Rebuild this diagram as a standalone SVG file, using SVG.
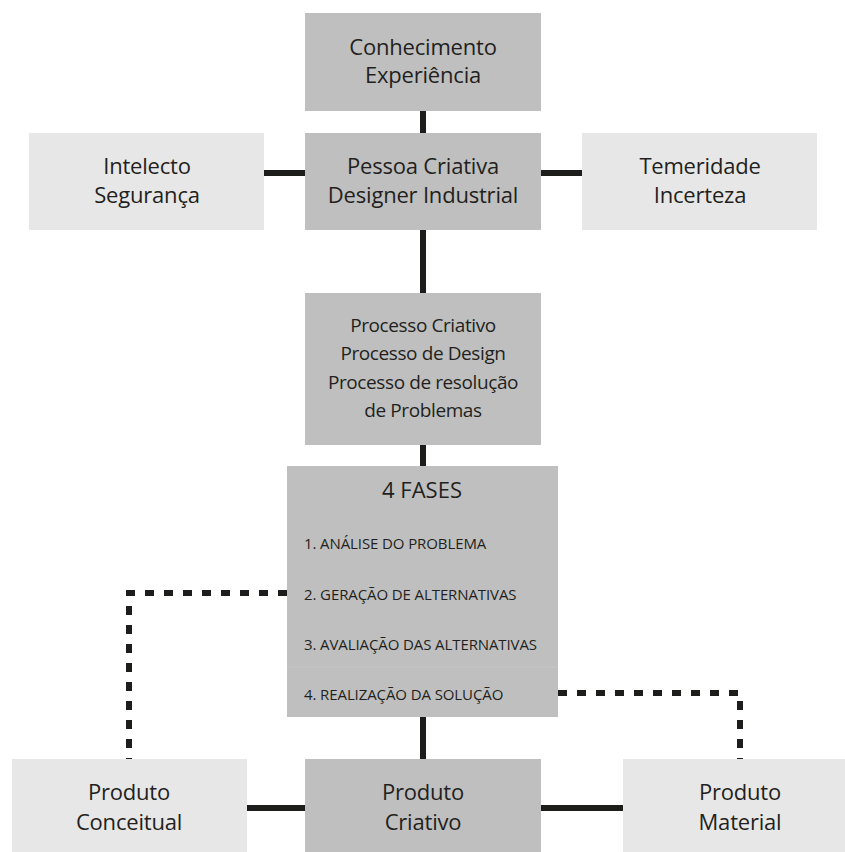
<svg xmlns="http://www.w3.org/2000/svg" width="845" height="852" viewBox="0 0 845 852">
  <style>
    .dark { fill: #bfbfbf; }
    .light { fill: #e8e7e7; }
    .t { font-family: "Open Sans", "Liberation Sans", sans-serif; font-size: 22px; letter-spacing: -0.2px; fill: #231f20; text-anchor: middle; }
    .s { font-family: "Open Sans", "Liberation Sans", sans-serif; font-size: 19px; letter-spacing: -0.4px; fill: #231f20; text-anchor: middle; }
    .h { font-family: "Open Sans", "Liberation Sans", sans-serif; font-size: 22px; fill: #231f20; text-anchor: middle; }
    .i { font-family: "Open Sans", "Liberation Sans", sans-serif; font-size: 15px; letter-spacing: -0.1px; fill: #231f20; }
    .solid { stroke: #1d1d1b; stroke-width: 6; fill: none; }
    .dash { stroke: #1d1d1b; stroke-width: 6; fill: none; stroke-dasharray: 9 10; }
  </style>
  <rect width="845" height="852" fill="#ffffff"/>
  <g id="connectors">
    <line class="solid" x1="423" y1="111" x2="423" y2="133"/>
    <line class="solid" x1="264" y1="173" x2="305" y2="173"/>
    <line class="solid" x1="541" y1="173" x2="582" y2="173"/>
    <line class="solid" x1="423" y1="230" x2="423" y2="293"/>
    <line class="solid" x1="423" y1="445" x2="423" y2="466"/>
    <line class="solid" x1="423" y1="717" x2="423" y2="759"/>
    <line class="solid" x1="247" y1="808" x2="305" y2="808"/>
    <line class="solid" x1="541" y1="808" x2="623" y2="808"/>
    <path class="dash" d="M287,593 H129 V759"/>
    <path class="dash" d="M558,693 H740 V759"/>
  </g>
  <g id="conhecimento">
    <rect class="dark" x="305" y="13" width="236" height="98"/>
    <text class="t" x="423" y="55">Conhecimento</text>
    <text class="t" x="423" y="83">Experiência</text>
  </g>
  <g id="intelecto">
    <rect class="light" x="29" y="133" width="235" height="97"/>
    <text class="t" x="147" y="174">Intelecto</text>
    <text class="t" x="147" y="203">Segurança</text>
  </g>
  <g id="pessoa">
    <rect class="dark" x="305" y="133" width="236" height="97"/>
    <text class="t" x="423" y="174">Pessoa Criativa</text>
    <text class="t" x="423" y="203">Designer Industrial</text>
  </g>
  <g id="temeridade">
    <rect class="light" x="582" y="133" width="235" height="97"/>
    <text class="t" x="700" y="174">Temeridade</text>
    <text class="t" x="700" y="203">Incerteza</text>
  </g>
  <g id="processo">
    <rect class="dark" x="305" y="293" width="236" height="152"/>
    <text class="s" x="423" y="332">Processo Criativo</text>
    <text class="s" x="423" y="360">Processo de Design</text>
    <text class="s" x="423" y="389">Processo de resolução</text>
    <text class="s" x="423" y="417">de Problemas</text>
  </g>
  <g id="fases">
    <rect class="dark" x="287" y="466" width="271" height="251"/>
    <line x1="287" y1="667" x2="558" y2="667" stroke="#c6c6c6" stroke-width="1"/>
    <text class="h" x="422" y="498">4 FASES</text>
    <text class="i" x="304" y="549">1. ANÁLISE DO PROBLEMA</text>
    <text class="i" x="304" y="600">2. GERAÇÃO DE ALTERNATIVAS</text>
    <text class="i" x="304" y="650">3. AVALIAÇÃO DAS ALTERNATIVAS</text>
    <text class="i" x="304" y="700">4. REALIZAÇÃO DA SOLUÇÃO</text>
  </g>
  <g id="conceitual">
    <rect class="light" x="12" y="759" width="235" height="93"/>
    <text class="t" x="129" y="800">Produto</text>
    <text class="t" x="129" y="830">Conceitual</text>
  </g>
  <g id="criativo">
    <rect class="dark" x="305" y="759" width="236" height="93"/>
    <text class="t" x="423" y="800">Produto</text>
    <text class="t" x="423" y="830">Criativo</text>
  </g>
  <g id="material">
    <rect class="light" x="623" y="759" width="235" height="93"/>
    <text class="t" x="740" y="800">Produto</text>
    <text class="t" x="740" y="830">Material</text>
  </g>
</svg>
